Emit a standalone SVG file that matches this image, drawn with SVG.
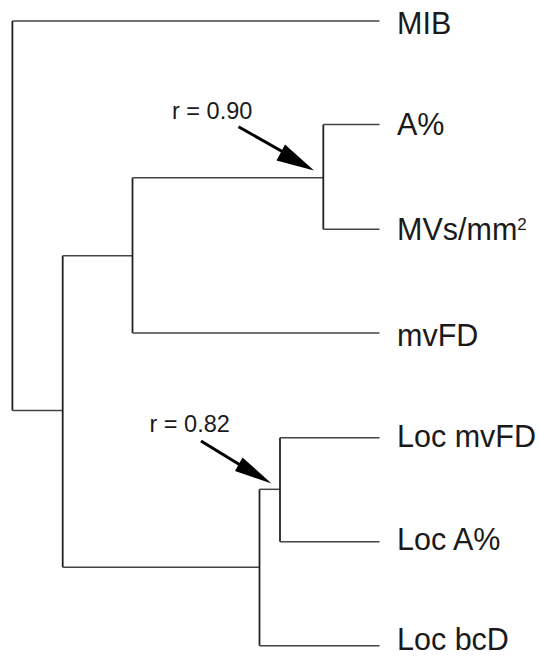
<svg xmlns="http://www.w3.org/2000/svg" width="539" height="656" viewBox="0 0 539 656">
<style>
.lbl{font-family:"Liberation Sans",Arial,sans-serif;font-size:30.5px;fill:#1a1a1a}
.r{font-family:"Liberation Sans",Arial,sans-serif;font-size:23.5px;fill:#1a1a1a}
.h{stroke:#444;stroke-width:1.5;fill:none}
.v{stroke:#222;stroke-width:1.8;fill:none}
.arr{stroke:#000;stroke-width:3;fill:none}
.head{fill:#000}
</style>
<rect width="539" height="656" fill="#fff"/>
<g id="connectors">
<path class="h" d="M12.4 21H379.5"/>
<path class="v" d="M12.4 21V410.5"/>
<path class="h" d="M12.4 410.5H62.7"/>
<path class="v" d="M62.7 255.7V567.3"/>
<path class="h" d="M62.7 255.7H132.5"/>
<path class="v" d="M132.5 177.7V333"/>
<path class="h" d="M132.5 177.7H323.3"/>
<path class="v" d="M323.3 124.5V229.3"/>
<path class="h" d="M323.3 124.5H379.5"/>
<path class="h" d="M323.3 229.3H379.5"/>
<path class="h" d="M132.5 333H379.5"/>
<path class="h" d="M62.7 567.3H259.5"/>
<path class="v" d="M259.5 489.3V645.7"/>
<path class="h" d="M259.5 489.3H280"/>
<path class="v" d="M280 437.7V541.7"/>
<path class="h" d="M280 437.7H379.5"/>
<path class="h" d="M280 541.7H379.5"/>
<path class="h" d="M259.5 645.7H379.5"/>
</g>
<g id="node-MIB"><text class="lbl" x="397" y="34.3">MIB</text></g>
<g id="node-A"><text class="lbl" x="397" y="134.5">A%</text></g>
<g id="node-MVs"><text class="lbl" x="397" y="240">MVs/mm<tspan font-size="17" dy="-10">2</tspan></text></g>
<g id="node-mvFD"><text class="lbl" x="397" y="345.7">mvFD</text></g>
<g id="node-LocmvFD"><text class="lbl" x="397" y="446.7">Loc mvFD</text></g>
<g id="node-LocA"><text class="lbl" x="397" y="549.5">Loc A%</text></g>
<g id="node-LocbcD"><text class="lbl" x="397" y="649.5">Loc bcD</text></g>
<g id="annot-1">
<text class="r" x="172" y="119.3">r = 0.90</text>
<path class="arr" d="M238.5 126.7L284 152.5"/>
<polygon class="head" points="314,170.5 285,144.5 276.5,160.5"/>
</g>
<g id="annot-2">
<text class="r" x="149.5" y="431.7">r = 0.82</text>
<path class="arr" d="M201 441L241 465.5"/>
<polygon class="head" points="271.5,483.5 242.5,457.5 235,471"/>
</g>
</svg>
